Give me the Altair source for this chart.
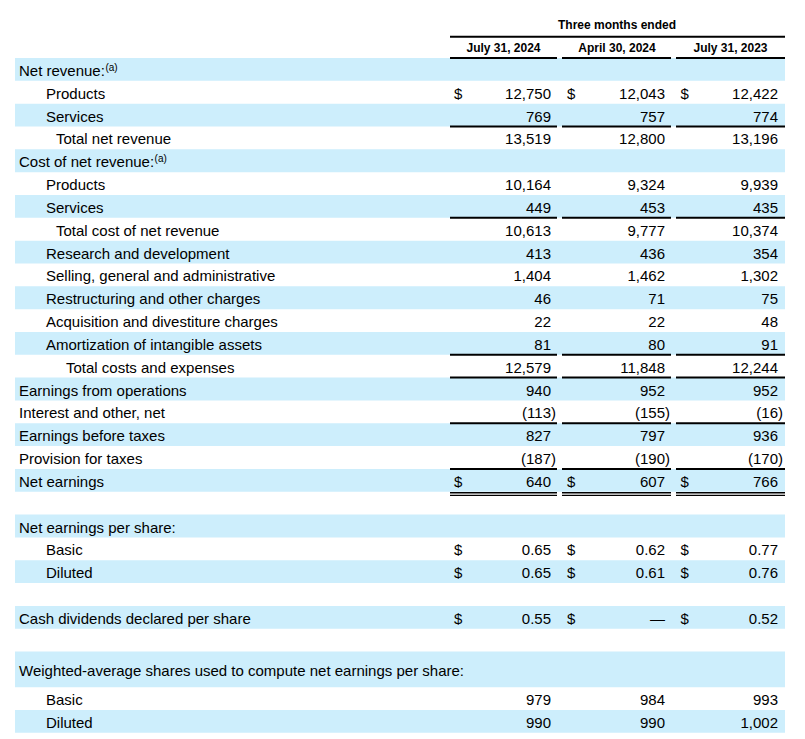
import altair as alt
import pandas as pd

# ---------------- data ----------------
labels = ["Net revenue:", "Products", "Services", "Total net revenue",
          "Cost of net revenue:", "Products", "Services", "Total cost of net revenue",
          "Research and development", "Selling, general and administrative",
          "Restructuring and other charges", "Acquisition and divestiture charges",
          "Amortization of intangible assets", "Total costs and expenses",
          "Earnings from operations", "Interest and other, net", "Earnings before taxes",
          "Provision for taxes", "Net earnings", "",
          "Net earnings per share:", "Basic", "Diluted", "",
          "Cash dividends declared per share", "",
          "Weighted-average shares used to compute net earnings per share:", "Basic", "Diluted"]
footnote_rows = [0, 4]
footnote_mark = "(a)"
indent = [0, 1, 1, 2, 0, 1, 1, 2, 1, 1, 1, 1, 1, 3, 0, 0, 0, 0, 0, 0,
          0, 1, 1, 0, 0, 0, 0, 1, 1]
periods = ["July 31, 2024", "April 30, 2024", "July 31, 2023"]
header_title = "Three months ended"
jul24 = [None, 12750, 769, 13519, None, 10164, 449, 10613, 413, 1404, 46, 22, 81, 12579,
         940, -113, 827, -187, 640, None, None, 0.65, 0.65, None, 0.55, None, None, 979, 990]
apr24 = [None, 12043, 757, 12800, None, 9324, 453, 9777, 436, 1462, 71, 22, 80, 11848,
         952, -155, 797, -190, 607, None, None, 0.62, 0.61, None, 0, None, None, 984, 990]
jul23 = [None, 12422, 774, 13196, None, 9939, 435, 10374, 354, 1302, 75, 48, 91, 12244,
         952, -16, 936, -170, 766, None, None, 0.77, 0.76, None, 0.52, None, None, 993, 1002]
dollar_rows = [1, 18, 21, 22, 24]
per_share_rows = [21, 22, 24]
total_rule_rows = [3, 7, 13, 14, 16, 18]
double_rule_rows = [18]

# ---------------- layout (style) ----------------
TOP, ROW_H = 58.0, 22.83
FS = 15
row_units = [1.56 if i == 26 else 1.0 for i in range(len(labels))]
indent_x = {0: 19, 1: 46, 2: 56, 3: 66}
col_dollar = [454, 567, 680.5]
col_right = [551, 665, 778]
col_span = [(450, 557), (562, 671), (676, 785)]
col_center = [503.5, 617, 730.5]
FONT = "Liberation Sans"
SHADE = "#cdeefc"

# Arial/Helvetica advance widths (em) used to place the superscript after a label
_W = {" ": .278, ":": .278, "C": .722, "N": .722, "o": .556, "s": .5, "t": .278,
      "f": .278, "n": .556, "e": .556, "r": .333, "v": .5, "u": .556}


def text_width(s, size):
    return sum(_W.get(ch, .556) for ch in s) * size


tops, t = [], TOP
for u in row_units:
    tops.append(t)
    t += u * ROW_H
rows = pd.DataFrame({
    "label": labels,
    "x": [indent_x[k] for k in indent],
    "top": tops,
    "bottom": [a + u * ROW_H for a, u in zip(tops, row_units)],
})
rows["mid"] = (rows["top"] + rows["bottom"]) / 2
rows["sx"] = 15
rows["sx2"] = 785

shade_df = rows[rows.index % 2 == 0]

sup_df = pd.DataFrame([
    {"text": footnote_mark, "x": rows["x"][i] + text_width(labels[i], FS) + 0.5,
     "y": rows["mid"][i] - 1.5}
    for i in footnote_rows
])


def fmt(v, i):
    if v is None:
        return None
    if v == 0:
        return "—"
    if i in per_share_rows:
        s = f"{abs(v):.2f}"
    else:
        s = f"{abs(v):,}"
    return f"({s})" if v < 0 else s


vals, dollars = [], []
for c, series in enumerate([jul24, apr24, jul23]):
    for i, v in enumerate(series):
        s = fmt(v, i)
        if s is None:
            continue
        vals.append({"text": s, "x": col_right[c] + (5 if v < 0 else 0), "y": rows["mid"][i]})
    for i in dollar_rows:
        dollars.append({"text": "$", "x": col_dollar[c], "y": rows["mid"][i]})
vals_df = pd.DataFrame(vals)
dollar_df = pd.DataFrame(dollars)

thick = [{"x": 450, "x2": 785, "y": 36.7}]
for c in range(3):
    thick.append({"x": col_span[c][0], "x2": col_span[c][1], "y": TOP})
    for r in total_rule_rows:
        thick.append({"x": col_span[c][0], "x2": col_span[c][1], "y": rows["top"][r]})
thick_df = pd.DataFrame(thick)
thin = []
for c in range(3):
    for r in double_rule_rows:
        thin.append({"x": col_span[c][0], "x2": col_span[c][1], "y": rows["bottom"][r] + 1})
        thin.append({"x": col_span[c][0], "x2": col_span[c][1], "y": rows["bottom"][r] + 3.6})
thin_df = pd.DataFrame(thin)

head_df = pd.DataFrame(
    [{"text": header_title, "x": col_center[1], "y": 25.3}] +
    [{"text": p, "x": col_center[c], "y": 48.3} for c, p in enumerate(periods)]
)

# ---------------- scales ----------------
xs = alt.Scale(domain=[8, 797], range=[0, 789], nice=False, zero=False)
ys = alt.Scale(domain=[8, 727], range=[0, 719], nice=False, zero=False)
X = lambda f: alt.X(f, type="quantitative", scale=xs, axis=None)
Y = lambda f: alt.Y(f, type="quantitative", scale=ys, axis=None)

shade = alt.Chart(shade_df).mark_rect(color=SHADE).encode(
    x=X("sx"), x2="sx2", y=Y("top"), y2="bottom")

body = dict(baseline="middle", font=FONT, fontSize=FS, color="#000", dy=1.5)

label_txt = alt.Chart(rows[rows["label"] != ""]).mark_text(align="left", **body).encode(
    x=X("x"), y=Y("mid"), text="label:N")

sup_txt = alt.Chart(sup_df).mark_text(
    align="left", baseline="middle", font=FONT, fontSize=10, color="#000").encode(
    x=X("x"), y=Y("y"), text="text:N")

dollar_txt = alt.Chart(dollar_df).mark_text(align="left", **body).encode(
    x=X("x"), y=Y("y"), text="text:N")

val_txt = alt.Chart(vals_df).mark_text(align="right", **body).encode(
    x=X("x"), y=Y("y"), text="text:N")

head_txt = alt.Chart(head_df).mark_text(
    align="center", baseline="middle", font=FONT, fontSize=12, fontWeight="bold",
    color="#000").encode(x=X("x"), y=Y("y"), text="text:N")

thick_rules = alt.Chart(thick_df).mark_rule(color="#000", strokeWidth=2).encode(
    x=X("x"), x2="x2", y=Y("y"))
thin_rules = alt.Chart(thin_df).mark_rule(color="#000", strokeWidth=1.3).encode(
    x=X("x"), x2="x2", y=Y("y"))

chart = alt.layer(shade, thick_rules, thin_rules, label_txt, sup_txt, dollar_txt, val_txt,
                  head_txt).properties(
    width=789, height=719, padding=0
).configure_view(stroke=None)

chart.save("out.html", embed_options={"renderer": "svg", "actions": False})
